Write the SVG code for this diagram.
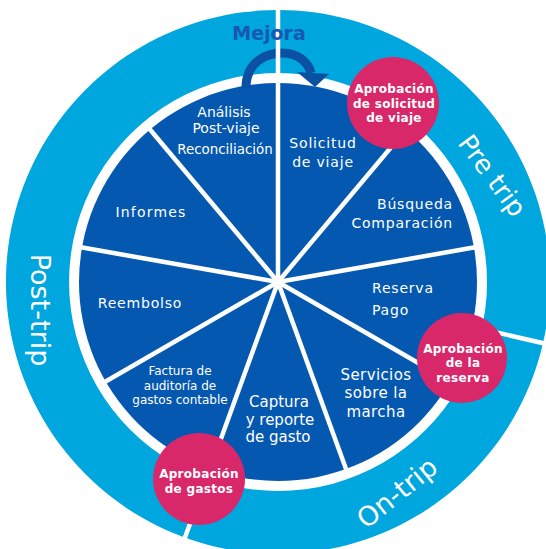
<svg xmlns="http://www.w3.org/2000/svg" width="546" height="549" viewBox="0 0 546 549">
<style>
.lbl{font-family:"DejaVu Sans",Verdana,sans-serif;fill:#fff;font-size:14px;letter-spacing:0.8px}
.mid{text-anchor:middle}
.ap{font-family:"DejaVu Sans",Verdana,sans-serif;fill:#fff;font-size:12px;font-weight:bold;text-anchor:middle;letter-spacing:0.3px}
.ring{font-family:"DejaVu Sans",Verdana,sans-serif;fill:#fff;font-size:27px;text-anchor:middle}
.sep{stroke:#fff;stroke-width:4.5;fill:none}
.bub{fill:#D9286A}
</style>
<rect width="546" height="549" fill="#fff"/>
<g id="ring">
<path d="M278 10 A272 272 0 1 1 277.9 10 Z M278 73 A209 209 0 1 0 278.1 73 Z" fill="#00A6DE" fill-rule="evenodd"/>
</g>
<g id="pie">
<circle cx="278" cy="282" r="199" fill="#0558B0"/>
</g>
<g id="mejora-arrow">
<path d="M246 88 C246 62 266 53 282 53 C298 53 308 62 311 73" fill="none" stroke="#0A50A3" stroke-width="9"/>
<polygon points="297,72 329,74 315,87" fill="#0A50A3"/>
</g>
<g id="connectors">
<line class="sep" x1="278" y1="282" x2="278" y2="0" stroke-width="5"/>
<line class="sep" x1="477.7" y1="328.1" x2="551" y2="345" stroke-width="5"/>
<line class="sep" x1="207.9" y1="474.7" x2="180.5" y2="549.8" stroke-width="5"/>
<line class="sep" x1="278" y1="282" x2="406.6" y2="128.8"/>
<line class="sep" x1="278" y1="282" x2="475" y2="247.3"/>
<line class="sep" x1="278" y1="282" x2="451.2" y2="382"/>
<line class="sep" x1="278" y1="282" x2="346.4" y2="469.9"/>
<line class="sep" x1="278" y1="282" x2="209.6" y2="469.9"/>
<line class="sep" x1="278" y1="282" x2="104.8" y2="382"/>
<line class="sep" x1="278" y1="282" x2="81" y2="247.3"/>
<line class="sep" x1="278" y1="282" x2="149.4" y2="128.8"/>
</g>
<g id="mejora"><text x="269" y="40" font-family="'DejaVu Sans',Verdana,sans-serif" font-weight="bold" font-size="19" fill="#1559B3" text-anchor="middle">Mejora</text></g>
<g id="seg-analisis">
<text class="lbl mid" x="224" y="117" style="letter-spacing:0">Análisis</text>
<text class="lbl mid" x="226" y="133" style="letter-spacing:0">Post-viaje</text>
<text class="lbl mid" x="225" y="154" style="letter-spacing:0;font-size:13.4px">Reconciliación</text>
</g>
<g id="seg-solicitud">
<text class="lbl mid" x="323" y="148">Solicitud</text>
<text class="lbl mid" x="323" y="167">de viaje</text>
</g>
<g id="seg-busqueda">
<text class="lbl" x="453" y="209" text-anchor="end">Búsqueda</text>
<text class="lbl" x="453" y="228" text-anchor="end">Comparación</text>
</g>
<g id="seg-reserva">
<text class="lbl" x="372" y="293">Reserva</text>
<text class="lbl" x="372" y="315">Pago</text>
</g>
<g id="seg-servicios">
<text class="lbl mid" x="376" y="380" style="font-size:15px;letter-spacing:0.4px">Servicios</text>
<text class="lbl mid" x="376" y="398" style="font-size:15px;letter-spacing:0.4px">sobre la</text>
<text class="lbl mid" x="376" y="417" style="font-size:15px;letter-spacing:0.4px">marcha</text>
</g>
<g id="seg-captura">
<text class="lbl mid" x="279" y="407" style="font-size:15px;letter-spacing:0">Captura</text>
<text class="lbl mid" x="280" y="425" style="font-size:15px;letter-spacing:0">y reporte</text>
<text class="lbl mid" x="278" y="442" style="font-size:15px;letter-spacing:0">de gasto</text>
</g>
<g id="seg-factura">
<text class="lbl mid" x="180" y="375" style="font-size:12px;letter-spacing:0">Factura de</text>
<text class="lbl mid" x="180" y="390" style="font-size:12px;letter-spacing:0">auditoría de</text>
<text class="lbl mid" x="180" y="404" style="font-size:12px;letter-spacing:0">gastos contable</text>
</g>
<g id="seg-reembolso"><text class="lbl mid" x="140" y="308">Reembolso</text></g>
<g id="seg-informes"><text class="lbl mid" x="151" y="217" style="letter-spacing:1.2px">Informes</text></g>
<g id="ring-pre"><text class="ring" transform="translate(485 181) rotate(53.5)" style="font-size:26px">Pre trip</text></g>
<g id="ring-on"><text class="ring" transform="translate(403 500) rotate(-39)">On-trip</text></g>
<g id="ring-post"><text class="ring" transform="translate(31 310) rotate(90)">Post-trip</text></g>
<g id="aprob-solicitud">
<circle class="bub" cx="393" cy="103" r="46"/>
<text class="ap" x="394" y="93">Aprobación</text>
<text class="ap" x="394" y="108">de solicitud</text>
<text class="ap" x="394" y="122">de viaje</text>
</g>
<g id="aprob-reserva">
<circle class="bub" cx="462" cy="358" r="45"/>
<text class="ap" x="463" y="353">Aprobación</text>
<text class="ap" x="463" y="367">de la</text>
<text class="ap" x="463" y="382">reserva</text>
</g>
<g id="aprob-gastos">
<circle class="bub" cx="199" cy="479" r="46"/>
<text class="ap" x="199" y="478">Aprobación</text>
<text class="ap" x="199" y="493">de gastos</text>
</g>
</svg>
